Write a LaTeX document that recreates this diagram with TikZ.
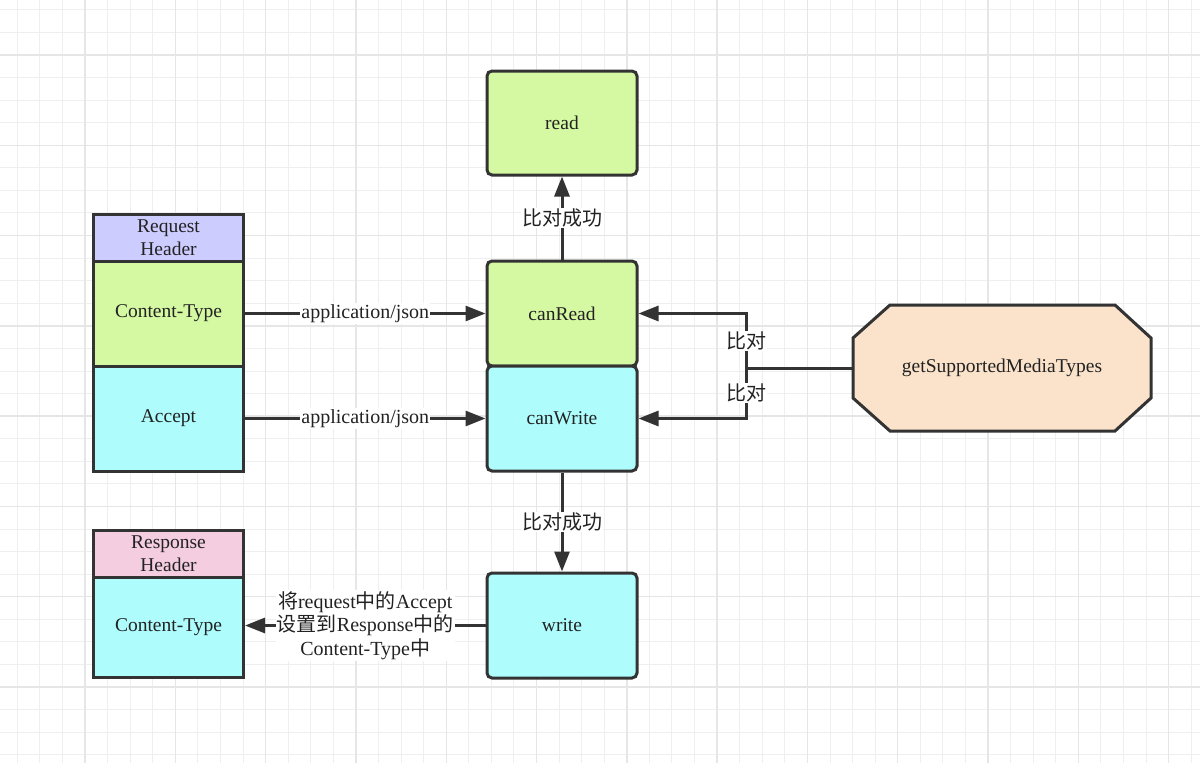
\documentclass[tikz,border=0pt]{standalone}
\usepackage{fontspec}
\setmainfont{Liberation Serif}
\newfontfamily\cjk{Noto Sans CJK SC}
\usetikzlibrary{arrows.meta}
\definecolor{bordc}{HTML}{333333}
\definecolor{greenc}{HTML}{D5F8A2}
\definecolor{cyanc}{HTML}{AEFCFC}
\definecolor{lavc}{HTML}{CCCCFF}
\definecolor{pinkc}{HTML}{F5CDE0}
\definecolor{orangec}{HTML}{FBE3CB}
\definecolor{minorc}{HTML}{EFEFEF}
\definecolor{majorc}{HTML}{E6E6E6}
\definecolor{textc}{HTML}{222222}
\begin{document}
\begin{tikzpicture}[x=1pt,y=-1pt,
  every node/.style={font=\fontsize{19.5}{23}\selectfont, text=textc},
  box/.style={draw=bordc, line width=3pt, minimum width=150pt, align=center, inner sep=0pt},
  rbox/.style={box, rounded corners=5pt},
  conn/.style={draw=bordc, line width=3pt},
  arr/.style={conn, -{Triangle[length=20pt,width=15pt]}},
  lbl/.style={fill=white, inner sep=1pt, align=center, font=\fontsize{20}{23.5}\selectfont},
  minor/.style={draw=minorc, line width=1pt},
  major/.style={draw=majorc, line width=1.4pt}]
\useasboundingbox (0,0) rectangle (1200,763);
\fill[white] (0,0) rectangle (1200,763);
% grid
\foreach \i in {0,...,53} \draw[minor] ({17.3+\i*22.575},0) -- ++(0,763);
\foreach \i in {0,...,34} \draw[minor] (0,{9.8+\i*22.575}) -- ++(1200,0);
\foreach \i in {0,...,13} \draw[major] ({-5.3+\i*90.3},0) -- ++(0,763);
\foreach \i in {0,...,9} \draw[major] (0,{-35.35+\i*90.3}) -- ++(1200,0);

% request header
\node[box, fill=lavc, minimum height=47pt] (reqh) at (168.5,237.5) {Request\\Header};
\node[box, fill=greenc, minimum height=105pt] (ct) at (168.5,313.5) {Content-Type};
\node[box, fill=cyanc, minimum height=105pt] (acc) at (168.5,418.5) {Accept};

% response header
\node[box, fill=pinkc, minimum height=47pt] (resh) at (168.5,553.5) {Response\\Header};
\node[box, fill=cyanc, minimum height=100pt] (rct) at (168.5,627) {Content-Type};

% middle column
\node[rbox, fill=greenc, minimum height=104pt] (read) at (562,123) {read};
\node[rbox, fill=greenc, minimum height=105pt] (canread) at (562,313.5) {canRead};
\node[rbox, fill=cyanc, minimum height=105pt] (canwrite) at (562,418.5) {canWrite};
\node[rbox, fill=cyanc, minimum height=105pt] (write) at (562,625.5) {write};

% octagon
\draw[draw=bordc, line width=3pt, fill=orangec, line join=miter]
  (890,305) -- (1115,305) -- (1151,338) -- (1151,398) -- (1115,431) -- (890,431) -- (853,398) -- (853,338) -- cycle;
\node[minimum width=298pt, minimum height=126pt, inner sep=0pt] (oct) at (1002,368) {getSupportedMediaTypes};

% connectors
\draw[arr] (ct.east) -- (canread.west) node[midway, lbl] {application/json};
\draw[arr] (acc.east) -- (canwrite.west) node[midway, lbl] {application/json};
\draw[arr] (canread.north) -- (read.south) node[midway, lbl] {\cjk 比对成功};
\draw[arr] (canwrite.south) -- (write.north) node[midway, lbl] {\cjk 比对成功};
\draw[arr] (write.west) -- (write.west -| rct.east) node[midway, lbl]
  {{\cjk 将}request{\cjk 中的}Accept\\{\cjk 设置到}Response{\cjk 中的}\\Content-Type{\cjk 中}};

\coordinate (sp) at (746,368);
\draw[conn] (oct.west) -- (sp);
\draw[arr] (sp) |- (canread.east) node[pos=0.25, lbl] {\cjk 比对};
\draw[arr] (sp) |- (canwrite.east) node[pos=0.25, lbl] {\cjk 比对};
\end{tikzpicture}
\end{document}
